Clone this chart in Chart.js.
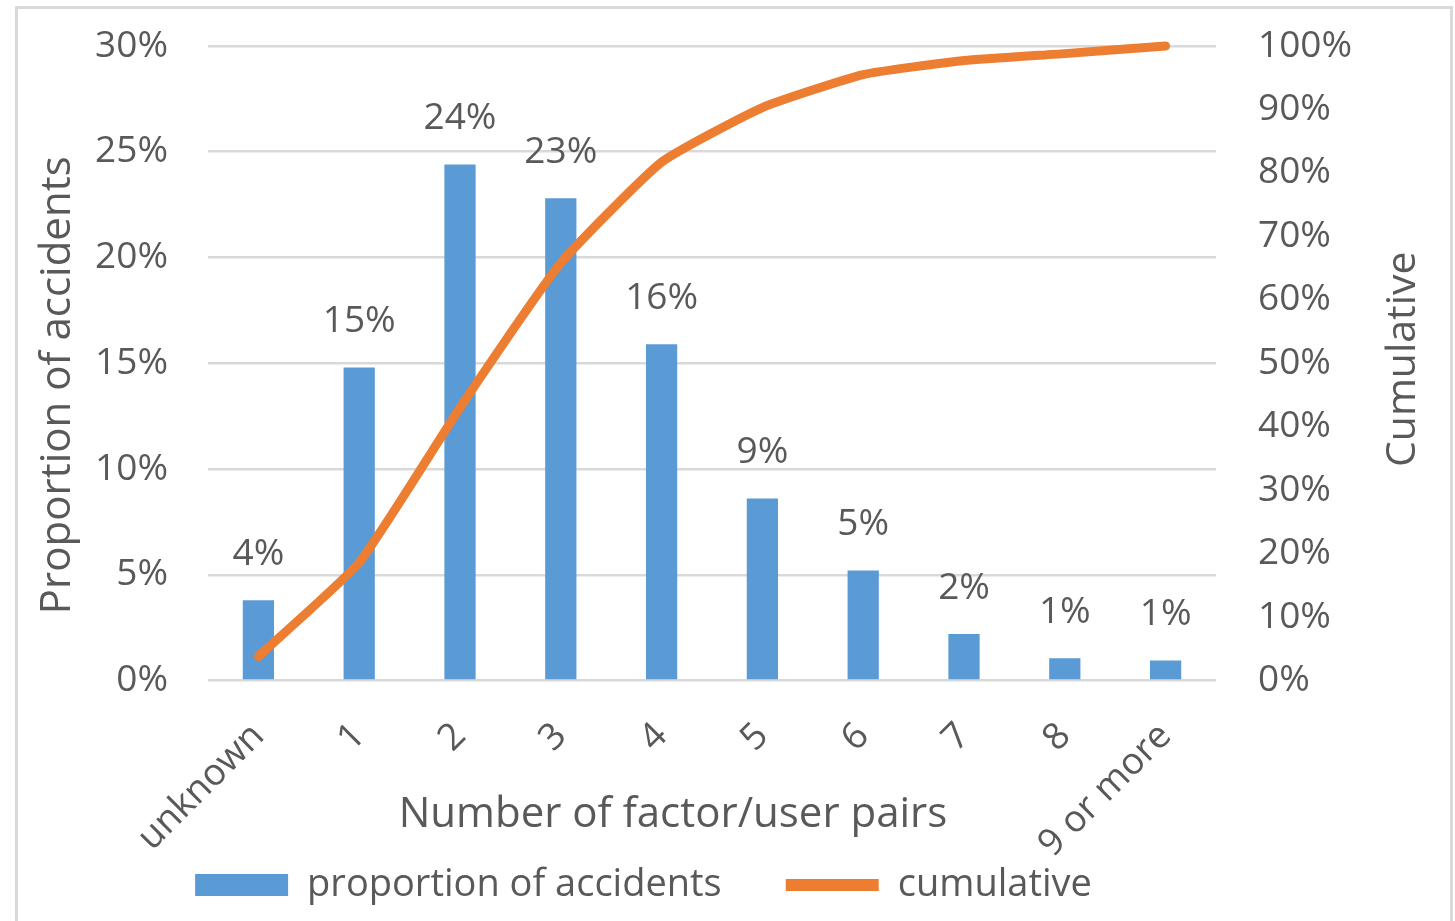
<!DOCTYPE html>
<html>
<head>
<meta charset="utf-8">
<script src="https://cdn.jsdelivr.net/npm/chart.js@4/dist/chart.umd.min.js"></script>
<style>
  html, body { margin: 0; padding: 0; background: #ffffff; overflow: hidden; }
  #frame { position: absolute; left: 15px; top: 6px; width: 1432px; height: 1000px; border: 3px solid #d9d9d9; }
  #wrap { position: absolute; left: 0; top: 0; width: 1455px; height: 921px; }
</style>
</head>
<body>
<div id="frame"></div>
<div id="wrap"><canvas id="c" width="1455" height="921"></canvas></div>
<script>
// Accidents by number of contributing factor/user pairs
const categories = ['unknown', '1', '2', '3', '4', '5', '6', '7', '8', '9 or more'];
const proportion = [3.8, 14.8, 24.4, 22.8, 15.9, 8.6, 5.2, 2.2, 1.05, 0.95];
const cumulative = [3.8, 18.6, 43.0, 65.8, 81.7, 90.3, 95.5, 97.7, 98.8, 100];
const leftTicks = [0, 5, 10, 15, 20, 25, 30];
const rightTicks = [0, 10, 20, 30, 40, 50, 60, 70, 80, 90, 100];

const FONT = '"Open Sans", "Noto Sans", sans-serif';
const TEXT = '#595959';
const GRID = '#d9d9d9';

// Tick labels may spill outside their scale boxes (rotated category names, right-hand percents)
const unclippedLabels = {
  id: 'unclippedLabels',
  beforeDraw(chart) {
    Object.values(chart.scales).forEach(s => { s._computeLabelArea = () => undefined; });
  }
};

// Percent labels above each bar
const barLabels = {
  id: 'barLabels',
  afterDatasetsDraw(chart) {
    const meta = chart.getDatasetMeta(0);
    const ctx = chart.ctx;
    ctx.save();
    ctx.font = '37px ' + FONT;
    ctx.fillStyle = TEXT;
    ctx.textAlign = 'center';
    ctx.textBaseline = 'middle';
    meta.data.forEach((bar, i) => {
      ctx.fillText(Math.round(proportion[i]) + '%', bar.x, bar.y - 46);
    });
    ctx.restore();
  }
};

// Axis titles: both vertical ones read bottom-to-top
function drawText(ctx, text, x, y, size, rot) {
  ctx.save();
  ctx.fillStyle = TEXT;
  ctx.textAlign = 'center';
  ctx.textBaseline = 'middle';
  ctx.font = size + 'px ' + FONT;
  ctx.translate(x, y);
  if (rot) ctx.rotate(rot);
  ctx.fillText(text, 0, 0);
  ctx.restore();
}
const axisTitles = {
  id: 'axisTitles',
  afterDraw(chart) {
    const ctx = chart.ctx;
    const area = chart.chartArea;
    const mid = (area.top + area.bottom) / 2;
    drawText(ctx, 'Proportion of accidents', chart.scales.y.left + 58, mid + 22, 42, -Math.PI / 2);
    drawText(ctx, 'Cumulative', chart.scales.y1.left + 187, mid - 4, 41, -Math.PI / 2);
    drawText(ctx, 'Number of factor/user pairs', area.left + 465, area.bottom + 135, 42, 0);
  }
};

new Chart(document.getElementById('c'), {
  data: {
    labels: categories,
    datasets: [
      {
        type: 'bar',
        label: 'proportion of accidents',
        data: proportion,
        yAxisID: 'y',
        backgroundColor: '#5B9BD5',
        borderWidth: 0,
        barPercentage: 0.31,
        categoryPercentage: 1.0,
        pointStyle: 'rect',
        order: 1
      },
      {
        type: 'line',
        label: 'cumulative',
        data: cumulative,
        yAxisID: 'y1',
        borderColor: '#ED7D31',
        backgroundColor: '#ED7D31',
        borderWidth: 9,
        borderCapStyle: 'round',
        borderJoinStyle: 'round',
        tension: 0.15,
        pointRadius: 0,
        pointStyle: 'line',
        clip: false,
        order: 0
      }
    ]
  },
  options: {
    responsive: false,
    animation: false,
    layout: { padding: { left: 0, right: 168, top: 46, bottom: 7 } },
    plugins: {
      tooltip: { enabled: false },
      legend: {
        position: 'bottom',
        align: 'center',
        labels: {
          font: { family: FONT, size: 38 },
          color: TEXT,
          usePointStyle: true,
          pointStyleWidth: 93,
          boxHeight: 22,
          padding: 64,
          sort: (a, b) => a.datasetIndex - b.datasetIndex,
          generateLabels(chart) {
            const items = Chart.defaults.plugins.legend.labels.generateLabels(chart);
            items.forEach(it => { if (it.datasetIndex === 1) it.lineWidth = 12; });
            return items;
          }
        }
      }
    },
    scales: {
      x: {
        grid: { display: false, drawTicks: false },
        border: { display: false },
        ticks: {
          font: { family: FONT, size: 37 },
          color: TEXT,
          autoSkip: false,
          minRotation: 45,
          maxRotation: 45,
          padding: 34
        },
        afterFit(scale) {
          scale.height = 121.5;
          scale.paddingLeft = 0;
          scale.paddingRight = 0;
        }
      },
      y: {
        position: 'left',
        min: 0,
        max: 30,
        afterBuildTicks(scale) { scale.ticks = leftTicks.map(v => ({ value: v })); },
        grid: { color: GRID, lineWidth: 2.5, drawTicks: false },
        border: { display: false },
        ticks: {
          font: { family: FONT, size: 37 },
          color: TEXT,
          padding: 40,
          callback: v => v + '%'
        },
        afterFit(scale) {
          scale.width = 208;
          scale.paddingTop = 0;
          scale.paddingBottom = 0;
        }
      },
      y1: {
        position: 'right',
        min: 0,
        max: 100,
        afterBuildTicks(scale) { scale.ticks = rightTicks.map(v => ({ value: v })); },
        grid: { display: false, drawTicks: false },
        border: { display: false },
        ticks: {
          font: { family: FONT, size: 37 },
          color: TEXT,
          padding: 42,
          callback: v => v + '%'
        },
        afterFit(scale) {
          scale.width = 71;
          scale.paddingTop = 0;
          scale.paddingBottom = 0;
        }
      }
    }
  },
  plugins: [unclippedLabels, barLabels, axisTitles]
});
</script>
</body>
</html>
